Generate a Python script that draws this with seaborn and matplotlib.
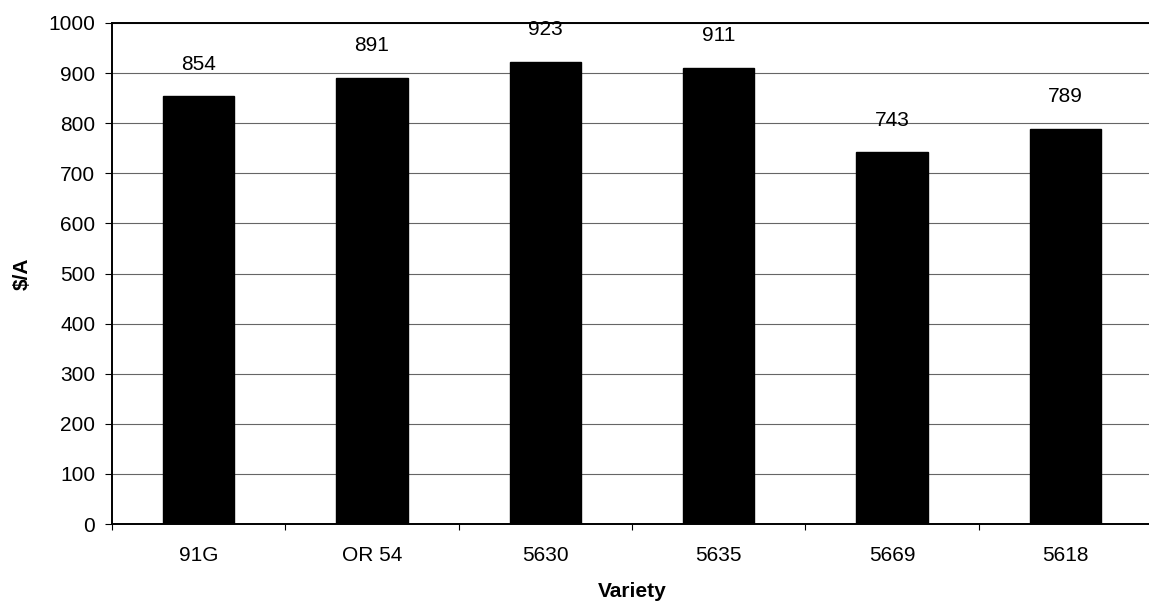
import matplotlib
matplotlib.use("Agg")
import matplotlib.pyplot as plt
import seaborn as sns
import pandas as pd
import numpy as np

varieties = ["91G", "OR 54", "5630", "5635", "5669", "5618"]
dollars_per_acre = [854, 891, 923, 911, 743, 789]

df = pd.DataFrame({"Variety": varieties, "$/A": dollars_per_acre})

sns.set_theme(style="white")
plt.rcParams["font.family"] = ["Liberation Sans", "DejaVu Sans"]

fig = plt.figure(figsize=(11.49, 6.09), dpi=100)
ax = fig.add_axes([112 / 1149, 85 / 609, 1040 / 1149, 501 / 609])

sns.barplot(data=df, x="Variety", y="$/A", order=varieties, color="black",
            width=0.41, saturation=1, ax=ax, edgecolor="black", zorder=3)

ax.set_ylim(0, 1000)
ax.set_xlim(-0.5, len(varieties) - 0.5)
ax.set_yticks(np.arange(0, 1001, 100))
ax.yaxis.grid(True, color="#666666", linewidth=0.8, zorder=0)
ax.xaxis.grid(False)

for container in ax.containers:
    ax.bar_label(container, labels=[str(v) for v in dollars_per_acre],
                 padding=16, fontsize=15, color="black")

# category separators as small ticks on the x axis
ax.set_xticks(np.arange(-0.5, len(varieties), 1.0), minor=True)
ax.tick_params(axis="x", which="minor", length=4, width=0.8, color="black",
               bottom=True, direction="out")
ax.tick_params(axis="x", which="major", length=0, labelsize=15, pad=16,
               colors="black")
ax.tick_params(axis="y", which="major", length=5, width=0.8, labelsize=15,
               left=True, direction="out", colors="black", pad=7)

for side in ["left", "bottom", "top"]:
    ax.spines[side].set_visible(True)
    ax.spines[side].set_color("black")
    ax.spines[side].set_linewidth(1.4)
ax.spines["right"].set_visible(False)

ax.set_xlabel("Variety", fontsize=15, fontweight="bold", labelpad=12,
              color="black")
ax.set_ylabel("$/A", fontsize=15, fontweight="bold", labelpad=12,
              color="black")

fig.savefig("out.png", dpi=100, facecolor="white")
